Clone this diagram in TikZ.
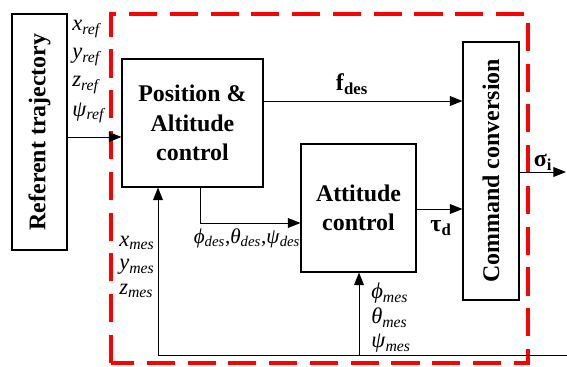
\documentclass[tikz,border=0pt]{standalone}
\usepackage{fontspec}
\setmainfont{Liberation Serif}
\usepackage{tikz}
\usetikzlibrary{arrows.meta, positioning, calc}

\newcommand{\iv}[2]{\textit{#1}\textsubscript{\textit{#2}}}
\newcommand{\bv}[2]{\textbf{#1}\textsubscript{\textbf{#2}}}

\begin{document}
\begin{tikzpicture}[x=0.025cm, y=0.025cm,
    block/.style={draw, line width=0.8pt, align=center, inner sep=0pt,
        font=\fontsize{17}{21}\selectfont\bfseries},
    sig/.style={line width=0.7pt, -{Triangle[length=9pt, width=7pt]}},
    lbl/.style={inner sep=0pt, anchor=west, font=\fontsize{16}{19}\selectfont},
    lblb/.style={inner sep=0pt, font=\fontsize{17}{20}\selectfont}]
    \useasboundingbox (0,0) rectangle (567,367);

    % Dashed frame
    \draw[red, line width=2.2pt, dash pattern=on 20pt off 9pt] (111,4) rectangle (528,353);

    % Blocks
    \node[block, rotate=90, minimum width=5.9cm, minimum height=1.375cm] (ref) at (39.5,235) {Referent trajectory};
    \node[block, minimum width=3.525cm, minimum height=3.2cm] (pos) at (192.5,244) {Position \&\\Altitude\\control};
    \node[block, minimum width=2.875cm, minimum height=3.2cm] (att) at (358.5,159) {Attitude\\control};
    \node[block, rotate=90, minimum width=6.45cm, minimum height=1.4cm] (cmd) at (491,196) {Command conversion};

    % Signal levels
    \coordinate (yref) at (0,230);
    \coordinate (yf) at (0,266);
    \coordinate (ytau) at (0,158);
    \coordinate (ysig) at (0,195);
    \coordinate (ydes) at (0,144);
    \coordinate (xdes) at (200,0);
    \coordinate (xfb) at (158,0);
    \coordinate (xatt) at (359,0);
    \coordinate (fbin) at (567,12);
    \coordinate (out) at (566,195);

    % Forward path
    \draw[sig] (ref.south |- yref) -- (pos.west |- yref);
    \draw[sig] (pos.east |- yf) -- (cmd.north |- yf);
    \draw[sig] (pos.south -| xdes) -- (xdes |- ydes) -- (att.west |- ydes);
    \draw[sig] (att.east |- ytau) -- (cmd.north |- ytau);
    \draw[sig] (cmd.south |- ysig) -- (out);

    % Feedback
    \draw[sig] (fbin) -- (xfb |- fbin) -- (pos.south -| xfb);
    \draw[sig] (xatt |- fbin) -- (att.south -| xatt);

    % Labels
    \foreach \v [count=\i] in {x,y,z,ψ}
        \node[lbl] (r\i) at (72,{366-28*\i}) {\iv{\v}{ref}};
    \foreach \v [count=\i] in {x,y,z}
        \node[lbl] (m\i) at (119,{148-24*\i}) {\iv{\v}{mes}};
    \foreach \v [count=\i] in {ϕ,θ,ψ}
        \node[lbl] (a\i) at (371,{99-25*\i}) {\iv{\v}{mes}};
    \node[lbl, anchor=center, font=\fontsize{15}{18}\selectfont] (des) at (247,129) {\iv{ϕ}{des},\iv{θ}{des},\iv{ψ}{des}};
    \node[lblb] (fdes) at (352,283) {\bv{f}{des}};
    \node[lblb] (taud) at (441,139) {\bv{τ}{d}};
    \node[lblb] (sigi) at (543,205) {\bv{σ}{i}};

\end{tikzpicture}
\end{document}
